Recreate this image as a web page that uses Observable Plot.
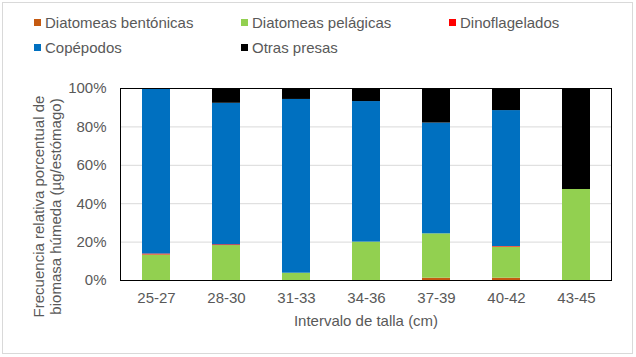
<!DOCTYPE html>
<html>
<head>
<meta charset="utf-8">
<script src="https://cdn.jsdelivr.net/npm/d3@7"></script>
<script src="https://cdn.jsdelivr.net/npm/@observablehq/plot@0.6"></script>
<style>
  html, body { margin: 0; padding: 0; background: #fff; }
  #wrap { position: relative; width: 636px; height: 357px; font-family: "Liberation Sans", Arial, sans-serif; color: #595959; }
  #border { position: absolute; left: 2px; top: 2px; width: 629px; height: 350px; border: 1px solid #d9d9d9; pointer-events: none; }
  #legend { position: relative; width: 636px; height: 62px; font-size: 15px; }
  .item { position: absolute; display: flex; align-items: center; white-space: nowrap; line-height: 17px; }
  .sw { width: 7px; height: 7px; margin-right: 4px; display: inline-block; }
  svg { display: block; }
</style>
</head>
<body>
<div id="wrap">
  <div id="legend"></div>
  <div id="chart"></div>
  <div id="border"></div>
</div>
<script>
const categories = ["25-27", "28-30", "31-33", "34-36", "37-39", "40-42", "43-45"];
const seriesNames = ["Diatomeas bentónicas", "Diatomeas pelágicas", "Dinoflagelados", "Copépodos", "Otras presas"];
const seriesColors = ["#C55A11", "#92D050", "#FF0000", "#0070C0", "#000000"];
const bentonicas = [0, 0, 0, 0, 1.2, 1.2, 0];
const pelagicas  = [13.3, 18.2, 3.8, 20.0, 23.1, 16.2, 47.4];
const dinoflagelados = [0.5, 0.4, 0, 0, 0, 0.3, 0];
const copepodos  = [86.2, 73.7, 90.5, 73.2, 57.7, 70.8, 0];
const otras      = [0, 7.7, 5.7, 6.8, 18.0, 11.5, 52.6];
const yTicks = [0, 20, 40, 60, 80, 100];
const xLabel = "Intervalo de talla (cm)";
const yLabel = "Frecuencia relativa porcentual de\nbiomasa húmeda (µg/estómago)";

const seriesValues = [bentonicas, pelagicas, dinoflagelados, copepodos, otras];
const data = [];
seriesNames.forEach((s, si) => {
  categories.forEach((c, ci) => data.push({cat: c, serie: s, value: seriesValues[si][ci]}));
});

// Legend (HTML, above the SVG)
const legendPos = [[34, 14], [241, 14], [449, 14], [34, 39], [241, 39]];
const legend = document.getElementById("legend");
seriesNames.forEach((s, i) => {
  const d = document.createElement("div");
  d.className = "item";
  d.style.left = legendPos[i][0] + "px";
  d.style.top = legendPos[i][1] + "px";
  d.innerHTML = `<span class="sw" style="background:${seriesColors[i]}"></span><span>${s}</span>`;
  legend.appendChild(d);
});

const chart = Plot.plot({
  width: 636,
  height: 295,
  marginTop: 26,
  marginBottom: 77,
  marginLeft: 120,
  marginRight: 25,
  style: {fontFamily: "Liberation Sans, Arial, sans-serif", fontSize: "15px", color: "#595959", background: "transparent", overflow: "visible"},
  x: {domain: categories, paddingInner: 0.6, paddingOuter: 0.3, label: null},
  y: {domain: [0, 100], label: null},
  color: {domain: seriesNames, range: seriesColors},
  marks: [
    Plot.gridY(yTicks.slice(1, -1), {stroke: "#d9d9d9", strokeOpacity: 1}),
    Plot.barY(data, Plot.stackY({order: seriesNames}, {x: "cat", y: "value", fill: "serie"})),
    Plot.frame({stroke: "#000", strokeWidth: 1}),
    Plot.axisY(yTicks, {tickSize: 0, tickPadding: 14, tickFormat: d => d + "%", label: null}),
    Plot.axisX({tickSize: 0, tickPadding: 12, label: null}),
    Plot.text([xLabel], {frameAnchor: "bottom", dy: 41, lineAnchor: "middle", fill: "#595959", fontSize: 15}),
    Plot.text([yLabel], {frameAnchor: "left", dx: -73.5, dy: 22, rotate: -90, textAnchor: "middle", lineAnchor: "middle", lineHeight: 1.13, fill: "#595959", fontSize: 15})
  ]
});
document.getElementById("chart").appendChild(chart);
</script>
</body>
</html>
